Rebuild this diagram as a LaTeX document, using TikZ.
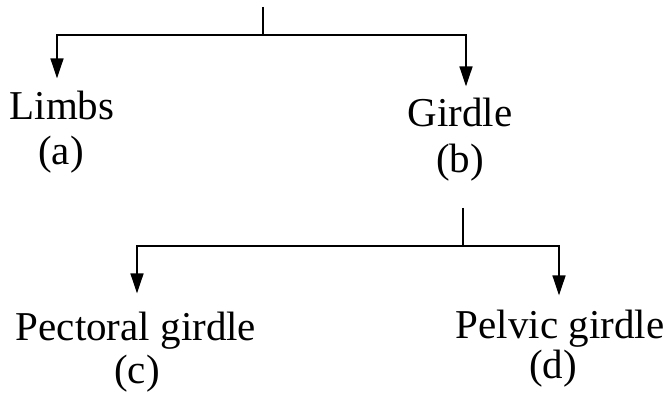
\documentclass[tikz,border=0pt]{standalone}
\usepackage{fontspec}
\setmainfont{Liberation Serif}
\usetikzlibrary{positioning,arrows.meta,calc}

\begin{document}
\begin{tikzpicture}[x=1pt, y=-1pt,
  lbl/.style={anchor=base, inner sep=0pt, font=\fontsize{41}{49}\selectfont},
  conn/.style={line width=1.7pt},
  arr/.style={-{Triangle[length=20pt,width=13pt]}, line width=1.7pt}]
\useasboundingbox (0,0) rectangle (666,395);
% labels
\node[lbl] (limbs) at (62,120) {Limbs};
\node[lbl] (a) at (61,165) {(a)};
\node[lbl] (girdle) at (460,127) {Girdle};
\node[lbl] (b) at (460,173) {(b)};
\node[lbl] (pect) at (136,340) {Pectoral girdle};
\node[lbl] (c) at (137,383) {(c)};
\node[lbl] (pelv) at (560,338) {Pelvic girdle};
\node[lbl] (d) at (553,378) {(d)};
% forks
\coordinate (root) at (263,7);
\coordinate (fork1) at (263,35);
\coordinate (stem) at (463,208);
\coordinate (fork2) at (463,246);
\draw[conn] (root) -- (fork1);
\draw[arr] (fork1) -| ($(limbs.north)+(-5,-13)$);
\draw[arr] (fork1) -| ($(girdle.north)+(6,-12)$);
\draw[conn] (stem) -- (fork2);
\draw[arr] (fork2) -| ($(pect.north)+(1,-18)$);
\draw[arr] (fork2) -| ($(pelv.north)+(-1,-14)$);
\end{tikzpicture}
\end{document}
